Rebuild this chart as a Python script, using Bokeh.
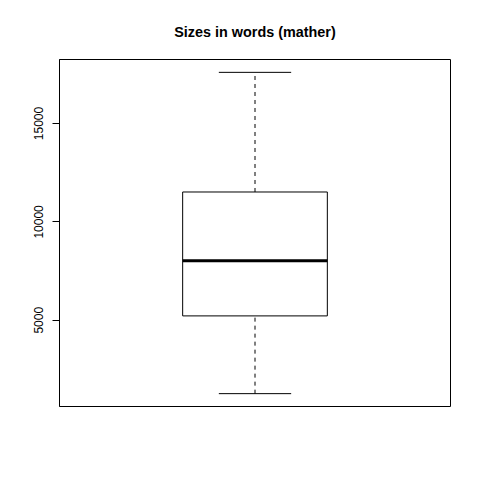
import math
from bokeh.plotting import figure
from bokeh.models import FixedTicker, Range1d
from bokeh.embed import file_html
from bokeh.resources import INLINE

# ---- data ----
title_text = "Sizes in words (mather)"
positions = [1]
whisker_low = [1268]
q1 = [5221]
median = [8023]
q3 = [11520]
whisker_high = [17602]
y_ticks = [5000, 10000, 15000]

# ---- style ----
box_half = 0.185
cap_half = 0.0925
FONT = "Liberation Sans"

lo = min(whisker_low)
hi = max(whisker_high)
pad = 0.04 * (hi - lo)

p = figure(width=464, height=464, output_backend="svg", toolbar_location=None,
           x_range=Range1d(0.5, 1.5), y_range=Range1d(lo - pad, hi + pad),
           x_axis_location=None, y_axis_location="left",
           min_border_left=59, min_border_right=14,
           min_border_top=59, min_border_bottom=58)

p.title.text = title_text
p.title.align = "center"
p.title.text_font = FONT
p.title.text_font_size = "14.4px"
p.title.text_font_style = "bold"
p.title.text_color = "black"
p.title.standoff = 39

p.xgrid.visible = False
p.ygrid.visible = False
p.outline_line_color = "black"
p.outline_line_width = 1
p.outline_line_alpha = 1.0
p.background_fill_color = "white"
p.border_fill_color = "white"

ax = p.yaxis[0]
ax.ticker = FixedTicker(ticks=y_ticks, minor_ticks=[])
ax.major_tick_out = 7
ax.major_tick_in = 0
ax.minor_tick_out = 0
ax.minor_tick_in = 0
ax.major_tick_line_color = "black"
ax.axis_line_color = "black"
ax.major_label_orientation = "parallel"
ax.major_label_text_font = FONT
ax.major_label_text_font_size = "12px"
ax.major_label_text_color = "black"
ax.major_label_standoff = 9

left = [x - box_half for x in positions]
right = [x + box_half for x in positions]
cap_l = [x - cap_half for x in positions]
cap_r = [x + cap_half for x in positions]

# whiskers (dashed)
p.segment(x0=positions, y0=q3, x1=positions, y1=whisker_high,
          line_color="black", line_width=1, line_dash="4 4")
p.segment(x0=positions, y0=whisker_low, x1=positions, y1=q1,
          line_color="black", line_width=1, line_dash="4 4")
# caps
p.segment(x0=cap_l, y0=whisker_high, x1=cap_r, y1=whisker_high,
          line_color="black", line_width=1)
p.segment(x0=cap_l, y0=whisker_low, x1=cap_r, y1=whisker_low,
          line_color="black", line_width=1)
# box
p.quad(left=left, right=right, bottom=q1, top=q3,
       fill_color="white", line_color="black", line_width=1)
# median
p.segment(x0=left, y0=median, x1=right, y1=median,
          line_color="black", line_width=3)

open("out.html", "w").write(file_html(p, INLINE))
